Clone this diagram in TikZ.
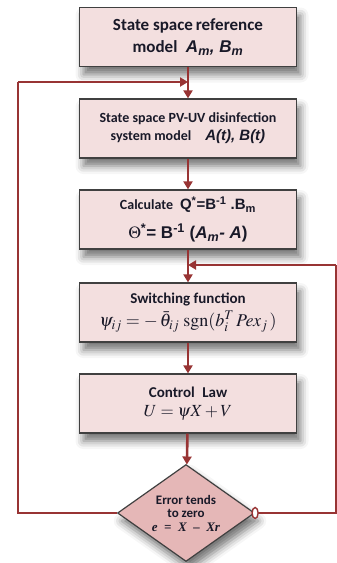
\documentclass[tikz,border=0pt]{standalone}
\usepackage{mathptmx}
\usepackage[no-math]{fontspec}
\setmainfont{Carlito}
\newfontfamily\arialfont{Liberation Sans}
\newfontfamily\timesfont{Liberation Serif}
\usepackage{xcolor}
\usetikzlibrary{arrows.meta, shapes.geometric, shadows.blur}

\definecolor{boxfill}{RGB}{243,223,223}
\definecolor{errfill}{RGB}{229,183,183}
\definecolor{flowred}{RGB}{152,52,52}
\definecolor{boxline}{RGB}{64,64,64}
\definecolor{txt}{RGB}{25,25,40}

\tikzset{
  block/.style={draw=boxline, line width=1.2pt, fill=boxfill, text=txt,
    minimum width=217pt, minimum height=59pt, align=center, inner sep=1pt,
    blur shadow={shadow xshift=4pt, shadow yshift=-8pt, shadow blur radius=8pt, shadow opacity=55}},
  decision/.style={diamond, draw=boxline, line width=1.2pt, fill=errfill, text=txt,
    minimum width=137pt, minimum height=97pt, inner sep=0pt, align=center, aspect=1.4,
    blur shadow={shadow xshift=4pt, shadow yshift=-8pt, shadow blur radius=8pt, shadow opacity=55}},
  flow/.style={draw=flowred, line width=2.6pt, -{Triangle[length=8pt, width=9pt]}},
  back/.style={draw=flowred, line width=2.6pt}
}

\begin{document}
\begin{tikzpicture}[x=1pt, y=-1pt]
    \useasboundingbox (0,0) rectangle (337,563);

    % Blocks
    \node[block] (ref) at (188,37)
      {\fontsize{17}{19}\selectfont\bfseries State space\,reference\\[7pt]
       \fontsize{17}{19}\selectfont\bfseries model\enspace{\arialfont\itshape A\textsubscript{m}, B\textsubscript{m}}};
    \node[block] (plant) at (188,128.5)
      {\fontsize{14}{16}\selectfont\bfseries State space PV-UV disinfection\\[4pt]
       \fontsize{14}{16}\selectfont\bfseries system model\quad{\fontsize{15}{17}\selectfont\arialfont\itshape A(t), B(t)}};
    \node[block] (calc) at (188,219.5)
      {\fontsize{14}{16}\selectfont\bfseries Calculate\enspace{\fontsize{15}{17}\selectfont\arialfont Q\textsuperscript{*}=B\textsuperscript{-1} .B\textsubscript{m}}\\[10pt]
       {\fontsize{17}{19}\selectfont\arialfont\bfseries $\Theta$\textsuperscript{*}= B\textsuperscript{-1} ({\itshape A\textsubscript{m}- A})}};
    \node[block] (sw) at (188,312.5)
      {\fontsize{15}{17}\selectfont\bfseries Switching function\\[4pt]
       \fontsize{18}{20}\selectfont $\psi_{ij} = -\,\bar{\theta}_{ij}\;\mathrm{sgn}(b_{i}^{T}\,Pex_{j}\,)$};
    \node[block] (law) at (188,403.5)
      {\fontsize{15}{17}\selectfont\bfseries Control\enspace Law\\[7pt]
       \fontsize{17}{19}\selectfont $U=\psi X+V$};
    \node[decision] (err) at (186,513)
      {\fontsize{13}{16}\selectfont\bfseries Error tends\\[1pt]
       \fontsize{13}{16}\selectfont\bfseries to zero\\[2pt]
       \fontsize{13}{16}\selectfont{\timesfont\bfseries\itshape e\enspace=\enspace X\enspace\textendash\enspace Xr}};

    % Feedback corners
    \coordinate (upL) at (ref.south |- 0,82);
    \coordinate (upR) at (calc.south |- 0,265);
    \coordinate (cL1) at (18,513);
    \coordinate (cL2) at (18,82);
    \coordinate (cR1) at (336,513);
    \coordinate (cR2) at (336,265);

    % Main path
    \draw[flow] (ref) -- (plant);
    \draw[flow] (plant) -- (calc);
    \draw[flow] (calc) -- (sw);
    \draw[flow] (sw) -- (law);
    \draw[flow] (law) -- (err);

    % Feedback
    \draw[back] (err.west) -- (cL1) -- (cL2);
    \draw[flow] (cL2) -- (upL);
    \draw[back] (err.east) -- (cR1) -- (cR2);
    \draw[flow] (cR2) -- (upR);
    \node[ellipse, draw=flowred, line width=1.4pt, fill=white, minimum width=6pt, minimum height=11pt, inner sep=0pt] (port) at (err.east) {};
\end{tikzpicture}
\end{document}
